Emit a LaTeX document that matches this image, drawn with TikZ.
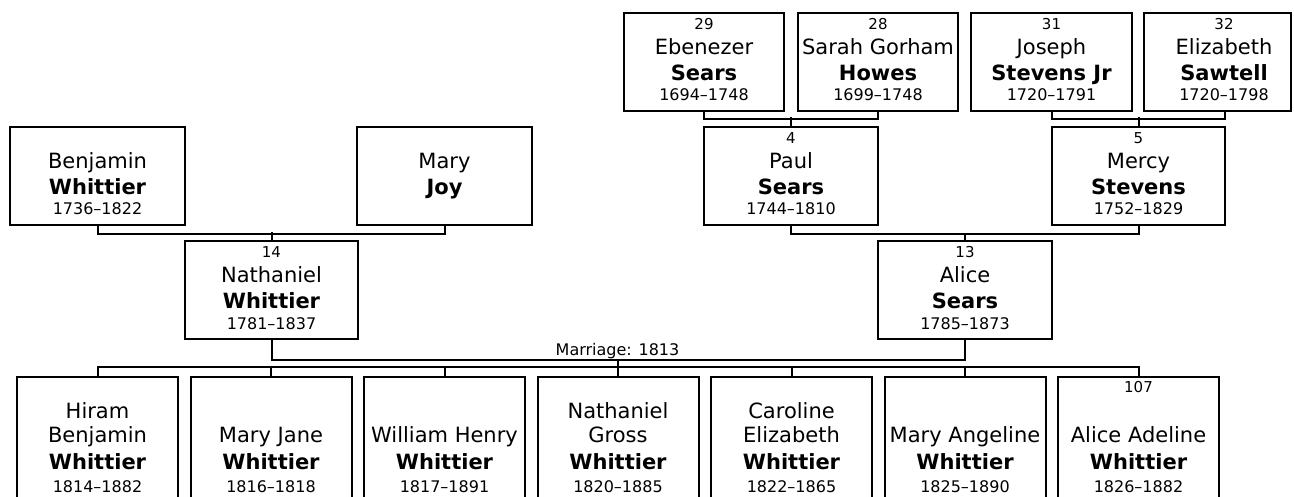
\documentclass[tikz,border=0pt]{standalone}
\usepackage{fontspec}
\setmainfont{DejaVu Sans}
\usetikzlibrary{fit}
\tikzset{
  cardbox/.style={draw=black, line width=2pt, inner sep=0pt, fill=white},
  link/.style={draw=black, line width=2pt},
  numtxt/.style={anchor=base, inner sep=0pt, font=\fontsize{15}{18}\selectfont},
  nametxt/.style={anchor=base, inner sep=0pt, font=\fontsize{21}{25}\selectfont},
  surtxt/.style={anchor=base, inner sep=0pt, font=\fontsize{21}{25}\selectfont\bfseries},
  yeartxt/.style={anchor=base, inner sep=0pt, font=\fontsize{16}{19}\selectfont},
  marrtxt/.style={anchor=base, inner sep=0pt, font=\fontsize{16}{19}\selectfont},
}
% #1 id, #2 left, #3 top, #4 width, #5 text x, #6 number, #7 given, #8 surname, #9 years
\newcommand{\parentcard}[9]{%
  \path (#2,#3) coordinate (#1-nw) ++(#4,98) coordinate (#1-se);
  \node[cardbox, fit=(#1-nw)(#1-se)] (#1) {};
  \path (#5,#3) coordinate (#1-t);
  \ifx&#6&\else\node[numtxt] (#1-num) at ([yshift=-16.5pt]#1-t) {#6};\fi
  \node[nametxt] (#1-giv) at ([yshift=-42pt]#1-t) {#7};
  \node[surtxt] (#1-sur) at ([yshift=-67.5pt]#1-t) {#8};
  \ifx&#9&\else\node[yeartxt] (#1-yrs) at ([yshift=-88pt]#1-t) {#9};\fi
}
% #1 id, #2 centre x, #3 number, #4 given line 1, #5 given line 2, #6 years
\newcommand{\childcard}[6]{%
  \path ({#2-80.5},377) coordinate (#1-nw) ++(161,125) coordinate (#1-se);
  \node[cardbox, fit=(#1-nw)(#1-se)] (#1) {};
  \path (#2,377) coordinate (#1-t);
  \ifx&#3&\else\node[numtxt] (#1-num) at ([yshift=-15.5pt]#1-t) {#3};\fi
  \ifx&#4&\else\node[nametxt] (#1-ga) at ([yshift=-41pt]#1-t) {#4};\fi
  \node[nametxt] (#1-gb) at ([yshift=-65.5pt]#1-t) {#5};
  \node[surtxt] (#1-sur) at ([yshift=-92pt]#1-t) {Whittier};
  \node[yeartxt] (#1-yrs) at ([yshift=-115pt]#1-t) {#6};
}
\begin{document}
\begin{tikzpicture}[x=1pt, y=-1pt]
\useasboundingbox[fill=white] (0,0) rectangle (1294,497);
\begin{scope}
\clip (0,0) rectangle (1294,497);
% great-grandparents
\parentcard{eb}{624}{13}{160}{704}{29}{Ebenezer}{Sears}{1694–1748}
\parentcard{sa}{798}{13}{160}{878}{28}{Sarah Gorham}{Howes}{1699–1748}
\parentcard{jo}{971}{13}{161}{1051.5}{31}{Joseph}{Stevens Jr}{1720–1791}
\parentcard{el}{1144}{13}{147}{1224}{32}{Elizabeth}{Sawtell}{1720–1798}
% grandparents
\parentcard{be}{10}{127}{175}{97.5}{}{Benjamin}{Whittier}{1736–1822}
\parentcard{ma}{357}{127}{175}{444.5}{}{Mary}{Joy}{}
\parentcard{pa}{704}{127}{174}{791}{4}{Paul}{Sears}{1744–1810}
\parentcard{me}{1052}{127}{173}{1138.5}{5}{Mercy}{Stevens}{1752–1829}
% parents
\parentcard{na}{185}{241}{173}{271.5}{14}{Nathaniel}{Whittier}{1781–1837}
\parentcard{al}{878}{241}{174}{965}{13}{Alice}{Sears}{1785–1873}
% children
\childcard{c1}{97.5}{}{Hiram}{Benjamin}{1814–1882}
\childcard{c2}{271}{}{}{Mary Jane}{1816–1818}
\childcard{c3}{444.5}{}{}{William Henry}{1817–1891}
\childcard{c4}{618}{}{Nathaniel}{Gross}{1820–1885}
\childcard{c5}{791.5}{}{Caroline}{Elizabeth}{1822–1865}
\childcard{c6}{965}{}{}{Mary Angeline}{1825–1890}
\childcard{c7}{1138.5}{107}{}{Alice Adeline}{1826–1882}
% connectors
\coordinate (el-c) at (1224.5,111);
\draw[link] (eb.south) -- ++(0,7) -| (sa.south);
\draw[link] (pa.north) -- ++(0,-9);
\draw[link] (jo.south) -- ++(0,7) -| (el-c);
\draw[link] (me.north) -- ++(0,-9);
\draw[link] (be.south) -- ++(0,8) -| (ma.south);
\draw[link] (na.north) -- ++(0,-8);
\draw[link] (pa.south) -- ++(0,8) -| (al.north);
\draw[link] (me.south) -- ++(0,8) -| (al.north);
\coordinate (mbar) at (618,360);
\draw[link] (na.south) |- (mbar) -| (al.south);
\node[marrtxt] (marr) at (617.5,355) {Marriage: 1813};
\draw[link] (mbar) -- (c4.north);
\draw[link] (c1.north) -- ++(0,-9) -| (c7.north);
\draw[link] (c2.north) -- ++(0,-9);
\draw[link] (c3.north) -- ++(0,-9);
\draw[link] (c5.north) -- ++(0,-9);
\draw[link] (c6.north) -- ++(0,-9);
\end{scope}
\end{tikzpicture}
\end{document}
